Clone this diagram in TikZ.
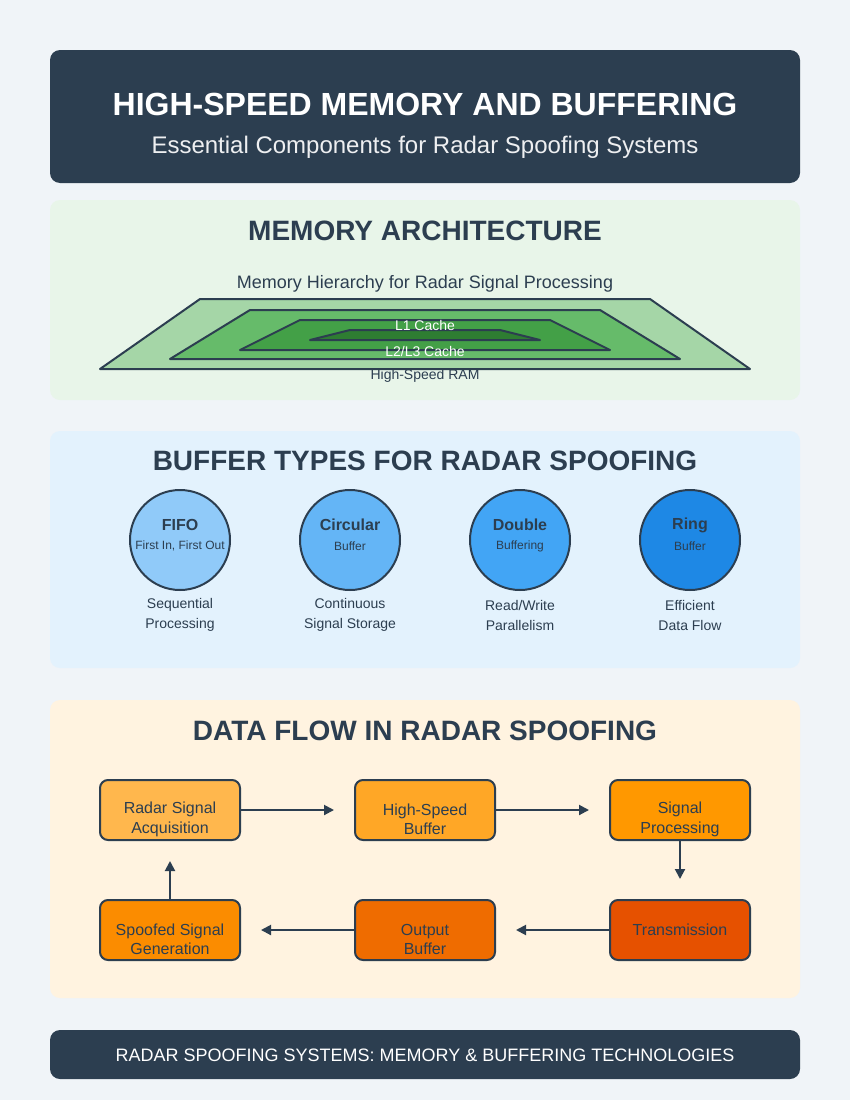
\documentclass[tikz,border=0pt]{standalone}
\usepackage{fontspec}
\setmainfont{Liberation Sans}
\usetikzlibrary{arrows.meta}
\definecolor{navy}{HTML}{2C3E50}
\definecolor{pagebg}{HTML}{F0F4F8}
\definecolor{greenbg}{HTML}{E8F5E9}
\definecolor{bluebg}{HTML}{E3F2FD}
\definecolor{orangebg}{HTML}{FFF3E0}
\colorlet{subtext}{white!92!navy}
\tikzstyle{panel}=[rounded corners=10pt]
\tikzstyle{heading}=[text=navy, font=\bfseries\fontsize{28}{33}\selectfont]
\tikzstyle{layer}=[draw=navy, line width=2pt, line join=round]
\tikzstyle{layertext}=[font=\fontsize{14}{16}\selectfont]
\tikzstyle{buffer}=[circle, draw=navy, line width=2pt, minimum size=100pt, inner sep=0pt]
\tikzstyle{caption}=[text=navy, align=center, font=\fontsize{14}{20}\selectfont]
\tikzstyle{stage}=[draw=navy, line width=2pt, rounded corners=8pt, minimum width=140pt, minimum height=60pt]
\tikzstyle{stagetext}=[text=navy, align=center, font=\fontsize{16}{19.5}\selectfont]
\tikzstyle{flow}=[line width=2pt, navy, -{Triangle[length=10pt,width=10pt]}, shorten >=20pt]

\begin{document}
\begin{tikzpicture}[x=1pt, y=-1pt]
	\fill[pagebg] (0,0) rectangle (850,1100);
	\useasboundingbox (0,0) rectangle (850,1100);

	% Header
	\fill[panel, navy] (50,50) rectangle (800,183);
	\node[text=white, font=\bfseries\fontsize{32}{38}\selectfont] (title) at (425,104) {HIGH-SPEED MEMORY AND BUFFERING};
	\node[text=subtext, font=\fontsize{24}{28}\selectfont] (subtitle) at (425,147) {Essential Components for Radar Spoofing Systems};

	% Memory architecture
	\fill[panel, greenbg] (50,200) rectangle (800,400);
	\node[heading] (memhead) at (425,231) {MEMORY ARCHITECTURE};
	\node[text=navy, font=\fontsize{18}{21}\selectfont] (hier) at (425,284) {Memory Hierarchy for Radar Signal Processing};
	\draw[layer, fill={rgb,255:red,165;green,214;blue,167}] (200,299) -- (650,299) -- (750,369) -- (100,369) -- cycle;
	\draw[layer, fill={rgb,255:red,102;green,187;blue,106}] (250,310) -- (600,310) -- (680,359) -- (170,359) -- cycle;
	\draw[layer, fill={rgb,255:red,67;green,160;blue,71}] (300,320) -- (550,320) -- (610,350) -- (240,350) -- cycle;
	\draw[layer, fill={rgb,255:red,46;green,125;blue,50}] (350,330) -- (500,330) -- (540,340) -- (310,340) -- cycle;
	\node[layertext, text=white] (l1) at (425,325) {L1 Cache};
	\node[layertext, text=white] (l2) at (425,351) {L2/L3 Cache};
	\node[layertext, text=navy] (ram) at (425,376) {High-Speed RAM};

	% Buffer types
	\fill[panel, bluebg] (50,431) rectangle (800,668);
	\node[heading] (bufhead) at (425,461) {BUFFER TYPES FOR RADAR SPOOFING};
	\node[buffer, fill={rgb,255:red,144;green,202;blue,249}] (fifo) at (180,540) {};
	\node[buffer, fill={rgb,255:red,100;green,181;blue,246}] (circ) at (350,540) {};
	\node[buffer, fill={rgb,255:red,66;green,165;blue,245}] (dbl) at (520,540) {};
	\node[buffer, fill={rgb,255:red,30;green,136;blue,229}] (ring) at (690,540) {};
	\foreach \n/\t/\s/\c in {fifo/FIFO/{First In, First Out}/{Sequential\\Processing},
		circ/Circular/Buffer/{Continuous\\Signal Storage},
		dbl/Double/Buffering/{Read/Write\\Parallelism},
		ring/Ring/Buffer/{Efficient\\Data Flow}}{
		\node[text=navy, font=\bfseries\fontsize{16}{19}\selectfont] (\n-name) at ([yshift=15pt]\n.center) {\t};
		\node[text=navy, font=\fontsize{12}{14}\selectfont] (\n-sub) at ([yshift=-6pt]\n.center) {\s};
		\node[caption] (\n-cap) at ([yshift=-75pt]\n.center) {\c};
	}

	% Data flow
	\fill[panel, orangebg] (50,700) rectangle (800,998);
	\node[heading] (flowhead) at (425,731) {DATA FLOW IN RADAR SPOOFING};
	\node[stage, fill={rgb,255:red,255;green,183;blue,77}] (acq) at (170,810) {};
	\node[stage, fill={rgb,255:red,255;green,167;blue,38}] (hsb) at (425,810) {};
	\node[stage, fill={rgb,255:red,255;green,152;blue,0}] (proc) at (680,810) {};
	\node[stage, fill={rgb,255:red,230;green,81;blue,0}] (trans) at (680,930) {};
	\node[stage, fill={rgb,255:red,239;green,108;blue,0}] (out) at (425,930) {};
	\node[stage, fill={rgb,255:red,251;green,140;blue,0}] (spoof) at (170,930) {};
	\node[stagetext] (acq-t) at ([yshift=-9.5pt]acq.center) {Radar Signal\\Acquisition};
	\node[stagetext] (hsb-t) at ([yshift=-9.5pt]hsb.center) {High-Speed\\Buffer};
	\node[stagetext] (proc-t) at ([yshift=-9.5pt]proc.center) {Signal\\Processing};
	\node[stagetext] (trans-t) at (trans.center) {Transmission};
	\node[stagetext] (out-t) at ([yshift=-9.5pt]out.center) {Output\\Buffer};
	\node[stagetext] (spoof-t) at ([yshift=-9.5pt]spoof.center) {Spoofed Signal\\Generation};
	% Arrows
	\draw[flow] (acq) -- (hsb);
	\draw[flow] (hsb) -- (proc);
	\draw[flow] (proc) -- (trans);
	\draw[flow] (trans) -- (out);
	\draw[flow] (out) -- (spoof);
	\draw[flow] (spoof) -- (acq);

	% Footer
	\fill[panel, navy] (50,1030) rectangle (800,1079);
	\node[text=white, font=\fontsize{18}{21}\selectfont] (footer) at (425,1055) {RADAR SPOOFING SYSTEMS: MEMORY \& BUFFERING TECHNOLOGIES};
\end{tikzpicture}
\end{document}
